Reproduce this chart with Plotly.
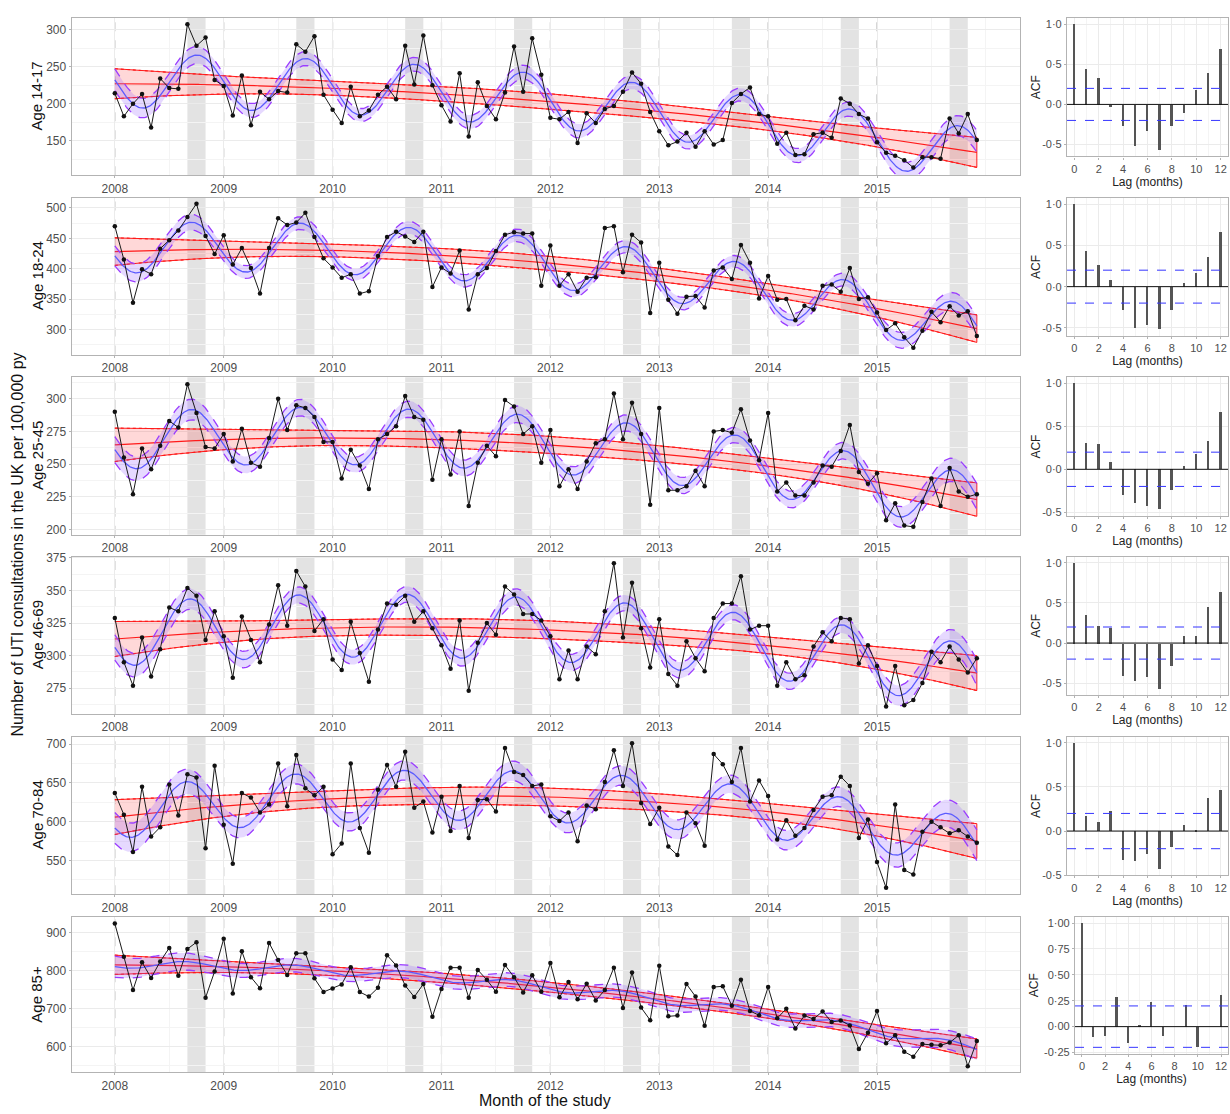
import numpy as np
import pandas as pd
import plotly.graph_objects as go

# ---------------- data ----------------
months = pd.date_range("2008-01-01", periods=96, freq="MS")
age_groups = ["Age 14-17", "Age 18-24", "Age 25-45", "Age 46-69", "Age 70-84", "Age 85+"]

rate_14_17 = [214, 183, 200, 213, 168, 234, 221, 220, 307, 278, 289, 232,
              224, 184, 238, 171, 216, 206, 217, 215, 280, 270, 291, 212,
              192, 174, 223, 183, 191, 212, 223, 206, 278, 226, 292, 225,
              198, 176, 241, 156, 229, 197, 179, 215, 277, 216, 288, 239,
              181, 179, 189, 147, 187, 174, 193, 197, 216, 242, 227, 189,
              163, 144, 149, 161, 142, 163, 145, 151, 201, 213, 222, 186,
              183, 146, 161, 131, 132, 159, 161, 154, 207, 200, 186, 180,
              148, 134, 130, 124, 114, 128, 128, 126, 180, 160, 186, 151]
rate_18_24 = [470, 415, 344, 399, 391, 433, 447, 463, 485, 507, 454, 424,
              455, 407, 434, 401, 359, 434, 483, 472, 476, 492, 452, 417,
              402, 385, 391, 359, 363, 421, 452, 461, 453, 444, 461, 370,
              402, 392, 430, 333, 391, 401, 429, 456, 460, 458, 458, 372,
              438, 372, 391, 362, 385, 386, 467, 470, 394, 456, 443, 327,
              410, 349, 326, 354, 355, 336, 397, 402, 383, 439, 410, 351,
              388, 349, 350, 315, 339, 333, 372, 374, 362, 401, 350, 353,
              328, 299, 310, 287, 270, 298, 329, 312, 338, 323, 330, 289]
rate_25_45 = [290, 255, 227, 262, 246, 264, 283, 278, 311, 289, 263, 262,
              273, 252, 277, 251, 248, 270, 300, 276, 295, 293, 286, 267,
              267, 239, 261, 249, 231, 269, 273, 279, 302, 286, 284, 238,
              269, 242, 275, 218, 251, 264, 256, 299, 294, 273, 279, 251,
              276, 233, 246, 231, 252, 266, 269, 304, 269, 297, 273, 219,
              293, 230, 230, 233, 245, 233, 275, 276, 274, 292, 268, 253,
              289, 229, 236, 226, 226, 236, 249, 248, 260, 280, 244, 235,
              243, 207, 220, 203, 202, 221, 239, 218, 247, 229, 225, 227]
rate_46_69 = [329, 295, 277, 314, 284, 305, 337, 334, 352, 346, 312, 334,
              315, 283, 330, 312, 295, 324, 354, 323, 365, 353, 319, 328,
              297, 289, 326, 302, 280, 320, 340, 339, 346, 326, 334, 321,
              308, 290, 327, 273, 310, 325, 316, 353, 347, 332, 332, 327,
              315, 282, 304, 282, 307, 301, 334, 371, 314, 356, 321, 291,
              328, 286, 277, 311, 298, 288, 329, 340, 340, 361, 320, 323,
              323, 277, 295, 282, 285, 307, 318, 311, 329, 328, 294, 308,
              292, 261, 292, 262, 266, 279, 303, 295, 307, 297, 287, 298]
rate_70_84 = [637, 609, 561, 645, 581, 593, 648, 608, 661, 657, 566, 672,
              596, 546, 637, 631, 612, 622, 675, 620, 686, 643, 634, 645,
              558, 572, 675, 592, 560, 641, 673, 645, 690, 618, 626, 586,
              632, 588, 646, 579, 628, 629, 613, 695, 664, 660, 646, 648,
              607, 601, 612, 575, 621, 616, 651, 692, 646, 701, 624, 597,
              618, 568, 557, 612, 598, 569, 687, 674, 651, 695, 626, 653,
              633, 577, 602, 582, 592, 615, 632, 634, 658, 646, 579, 603,
              548, 515, 622, 538, 532, 587, 600, 593, 585, 589, 581, 573]
rate_85_plus = [924, 837, 749, 822, 781, 824, 860, 787, 857, 875, 729, 798,
                884, 740, 851, 783, 754, 873, 828, 789, 846, 846, 780, 744,
                753, 764, 809, 744, 732, 755, 841, 814, 761, 731, 765, 679,
                752, 808, 808, 729, 802, 776, 745, 815, 783, 743, 788, 745,
                820, 730, 770, 725, 766, 722, 749, 808, 702, 795, 703, 670,
                813, 680, 682, 765, 732, 655, 757, 759, 708, 776, 694, 683,
                757, 675, 700, 648, 682, 673, 693, 665, 669, 656, 594, 637,
                694, 609, 630, 587, 574, 607, 605, 604, 611, 630, 549, 615]
rates = [rate_14_17, rate_18_24, rate_25_45, rate_46_69, rate_70_84, rate_85_plus]

acf_lags = list(range(13))
acf_14_17 = [1.0, 0.44, 0.33, -0.03, -0.27, -0.52, -0.33, -0.57, -0.27, -0.10, 0.18, 0.39, 0.69]
acf_18_24 = [1.0, 0.43, 0.26, 0.08, -0.28, -0.50, -0.47, -0.52, -0.28, 0.04, 0.17, 0.36, 0.66]
acf_25_45 = [1.0, 0.30, 0.29, 0.08, -0.30, -0.40, -0.43, -0.47, -0.25, 0.04, 0.17, 0.33, 0.66]
acf_46_69 = [1.0, 0.36, 0.22, 0.19, -0.41, -0.47, -0.42, -0.57, -0.28, 0.10, 0.10, 0.45, 0.64]
acf_70_84 = [1.0, 0.17, 0.11, 0.23, -0.32, -0.34, -0.26, -0.43, -0.18, 0.07, 0.01, 0.38, 0.47]
acf_85_plus = [1.0, -0.10, -0.09, 0.29, -0.16, 0.02, 0.24, -0.09, 0.0, 0.21, -0.20, 0.0, 0.31]
acfs = [acf_14_17, acf_18_24, acf_25_45, acf_46_69, acf_70_84, acf_85_plus]
acf_bound = 0.2

year_ticks = [2008, 2009, 2010, 2011, 2012, 2013, 2014, 2015]
season_start_month = 9   # shaded Sep-Oct
season_end_month = 11

# y-axis settings per main panel (range, tick step)
main_yranges = [[103.6, 315.6], [258.7, 516.3], [196, 316.4], [255.3, 376.1], [506.8, 709.4], [532.7, 941.5]]
main_ydticks = [50, 50, 25, 25, 50, 100]
acf_xrange = [-0.6, 12.6]
acf_yranges = [[-0.65, 1.08], [-0.596, 1.076], [-0.544, 1.074], [-0.649, 1.079], [-0.502, 1.07], [-0.26, 1.06]]
acf_tickvals = [[-0.5, 0.0, 0.5, 1.0]] * 5 + [[-0.25, 0.0, 0.25, 0.5, 0.75, 1.0]]
acf_ticktext = [["-0·5", "0·0", "0·5", "1·0"]] * 5 + [["-0·25", "0·00", "0·25", "0·50", "0·75", "1·00"]]

# ---------------- geometry (pixels) ----------------
W, H = 1230, 1114
main_x = (71.7, 1020)
main_y = [(13, 172), (195, 353), (376, 535), (557, 716), (739, 898), (921, 1078)]
acf_xs = [(1067, 1228)] * 5 + [(1075, 1228)]
acf_y = [(t, b - 19) for (t, b) in main_y]


def px_dom_x(a, b):
    return [a / W, b / W]


def px_dom_y(t, b):
    return [1 - b / H, 1 - t / H]


# ---------------- model fits ----------------
tm = (months.year + (months.month - 1) / 12.0).to_numpy()
t_idx = np.arange(len(months), dtype=float)
t_fine = np.linspace(0, len(months) - 1, 8 * (len(months) - 1) + 1)
x_fine = tm[0] + t_fine / 12.0


def design(tt, seasonal):
    cols = [np.ones_like(tt), tt, tt ** 2]
    if seasonal:
        cols += [np.sin(2 * np.pi * tt / 12), np.cos(2 * np.pi * tt / 12)]
    return np.column_stack(cols)


def fit(y, seasonal):
    y = np.asarray(y, dtype=float)
    X = design(t_idx, seasonal)
    beta, *_ = np.linalg.lstsq(X, y, rcond=None)
    resid = y - X @ beta
    s2 = resid @ resid / (len(y) - X.shape[1])
    cov = s2 * np.linalg.inv(X.T @ X)
    Xf = design(t_fine, seasonal)
    f = Xf @ beta
    se = np.sqrt(np.einsum("ij,jk,ik->i", Xf, cov, Xf))
    return f, f - 1.96 * se, f + 1.96 * se


RED = "#ff1a1a"
RED_FILL = "rgba(255,40,40,0.18)"
PURPLE = "#9a3cff"
PURPLE_FILL = "rgba(140,80,255,0.22)"
BLUE = "#5b5bff"

fig = go.Figure()
shapes = []
annotations = []
FONT = "Liberation Sans, Arial, sans-serif"


def axname(prefix, n):
    return prefix if n == 1 else f"{prefix}{n}"


for i, (lab, y) in enumerate(zip(age_groups, rates)):
    n1, n2 = 2 * i + 1, 2 * i + 2
    xa, ya = axname("x", n1), axname("y", n1)
    xa2, ya2 = axname("x", n2), axname("y", n2)

    tr, tr_lo, tr_hi = fit(y, False)
    se_, se_lo, se_hi = fit(y, True)

    # red trend band
    fig.add_trace(go.Scatter(x=np.concatenate([x_fine, x_fine[::-1]]),
                             y=np.concatenate([tr_hi, tr_lo[::-1]]),
                             fill="toself", fillcolor=RED_FILL, mode="lines",
                             line=dict(color=RED, width=1), xaxis=xa, yaxis=ya,
                             hoverinfo="skip", showlegend=False))
    for yy in (tr_hi, tr_lo):
        fig.add_trace(go.Scatter(x=x_fine, y=yy, mode="lines",
                                 line=dict(color=RED, width=1.2, dash="dot"),
                                 xaxis=xa, yaxis=ya, hoverinfo="skip", showlegend=False))
    fig.add_trace(go.Scatter(x=x_fine, y=tr, mode="lines", line=dict(color=RED, width=1.2),
                             xaxis=xa, yaxis=ya, hoverinfo="skip", showlegend=False))

    # purple seasonal band
    fig.add_trace(go.Scatter(x=np.concatenate([x_fine, x_fine[::-1]]),
                             y=np.concatenate([se_hi, se_lo[::-1]]),
                             fill="toself", fillcolor=PURPLE_FILL, mode="lines",
                             line=dict(color="rgba(0,0,0,0)", width=0), xaxis=xa, yaxis=ya,
                             hoverinfo="skip", showlegend=False))
    for yy in (se_hi, se_lo):
        fig.add_trace(go.Scatter(x=x_fine, y=yy, mode="lines",
                                 line=dict(color=PURPLE, width=1.3, dash="dash"),
                                 xaxis=xa, yaxis=ya, hoverinfo="skip", showlegend=False))
    fig.add_trace(go.Scatter(x=x_fine, y=se_, mode="lines", line=dict(color=BLUE, width=1.3),
                             xaxis=xa, yaxis=ya, hoverinfo="skip", showlegend=False))

    # observed data
    fig.add_trace(go.Scatter(x=tm, y=y, mode="lines+markers",
                             line=dict(color="#1a1a1a", width=1.0),
                             marker=dict(color="#111111", size=4.5),
                             xaxis=xa, yaxis=ya, showlegend=False))

    # ACF reference lines (drawn as traces across the panel range)
    fig.add_trace(go.Scatter(x=acf_xrange, y=[0, 0], mode="lines", line=dict(color="#111111", width=1),
                             xaxis=xa2, yaxis=ya2, hoverinfo="skip", showlegend=False))
    for b in (acf_bound, -acf_bound):
        fig.add_trace(go.Scatter(x=acf_xrange, y=[b, b], mode="lines",
                                 line=dict(color="#3535ff", width=1, dash="dash"),
                                 xaxis=xa2, yaxis=ya2, hoverinfo="skip", showlegend=False))
    # ACF bars
    fig.add_trace(go.Bar(x=acf_lags, y=acfs[i], width=0.16,
                         marker=dict(color="#555555", line=dict(width=0)),
                         xaxis=xa2, yaxis=ya2, showlegend=False))

    # axes
    ax = dict(domain=px_dom_x(*main_x), range=[2007.604, 2016.313], anchor=ya,
              tickvals=year_ticks, ticktext=[str(v) for v in year_ticks],
              showgrid=True, gridcolor="#ebebeb", gridwidth=1,
              minor=dict(tickvals=[v + 0.5 for v in year_ticks] + [2016.0], showgrid=True,
                         gridcolor="#f4f4f4", gridwidth=1),
              showline=True, mirror=True, linecolor="#b3b3b3", linewidth=1.2,
              ticks="outside", ticklen=2, tickcolor="#b3b3b3",
              tickfont=dict(size=12, color="#4d4d4d", family=FONT), zeroline=False)
    ay = dict(domain=px_dom_y(*main_y[i]), range=main_yranges[i], anchor=xa,
              tickmode="linear", tick0=0, dtick=main_ydticks[i],
              showgrid=True, gridcolor="#ebebeb",
              minor=dict(tickmode="linear", tick0=0, dtick=main_ydticks[i] / 2, showgrid=True,
                         gridcolor="#f4f4f4"),
              showline=True, mirror=True, linecolor="#b3b3b3", linewidth=1.2,
              ticks="outside", ticklen=2, tickcolor="#b3b3b3",
              tickfont=dict(size=12, color="#4d4d4d", family=FONT), zeroline=False)
    ax2 = dict(domain=px_dom_x(*acf_xs[i]), range=acf_xrange, anchor=ya2,
               tickvals=[0, 2, 4, 6, 8, 10, 12], showgrid=True, gridcolor="#ebebeb",
               minor=dict(tickvals=[1, 3, 5, 7, 9, 11], showgrid=True, gridcolor="#f4f4f4"),
               showline=True, mirror=True, linecolor="#b3b3b3", linewidth=1.2,
               ticks="outside", ticklen=2, tickcolor="#b3b3b3",
               tickfont=dict(size=11, color="#4d4d4d", family=FONT), zeroline=False,
               title=dict(text="Lag (months)", font=dict(size=12, color="#222", family=FONT), standoff=0))
    ay2 = dict(domain=px_dom_y(*acf_y[i]), range=acf_yranges[i], anchor=xa2,
               tickvals=acf_tickvals[i], ticktext=acf_ticktext[i],
               showgrid=True, gridcolor="#ebebeb",
               showline=True, mirror=True, linecolor="#b3b3b3", linewidth=1.2,
               ticks="outside", ticklen=2, tickcolor="#b3b3b3",
               tickfont=dict(size=11, color="#4d4d4d", family=FONT), zeroline=False)
    fig.layout[axname("xaxis", n1)] = ax
    fig.layout[axname("yaxis", n1)] = ay
    fig.layout[axname("xaxis", n2)] = ax2
    fig.layout[axname("yaxis", n2)] = ay2

    # shaded seasons and year lines
    for yr in year_ticks:
        shapes.append(dict(type="rect", xref=xa, yref=f"{ya} domain",
                           x0=yr + (season_start_month - 1) / 12, x1=yr + (season_end_month - 1) / 12,
                           y0=0, y1=1, fillcolor="#e3e3e3", line=dict(width=0), layer="below"))
        shapes.append(dict(type="line", xref=xa, yref=f"{ya} domain", x0=yr, x1=yr, y0=0, y1=1,
                           line=dict(color="#b8b8b8", width=1.2, dash="dash"), layer="below"))

    # row label
    cy = (main_y[i][0] + main_y[i][1]) / 2
    annotations.append(dict(text=lab, x=37 / W, y=1 - cy / H, xref="paper", yref="paper",
                            textangle=-90, showarrow=False, xanchor="center", yanchor="middle",
                            font=dict(size=15, color="#111", family=FONT)))
    # ACF y title
    acy = (acf_y[i][0] + acf_y[i][1]) / 2
    annotations.append(dict(text="ACF", x=(1036 if i < 5 else 1034) / W, y=1 - acy / H, xref="paper",
                            yref="paper", textangle=-90, showarrow=False, xanchor="center",
                            yanchor="middle", font=dict(size=12, color="#222", family=FONT)))

annotations.append(dict(text="Number of UTI consultations in the UK per 100,000 py", x=18 / W,
                        y=1 - 545 / H, xref="paper", yref="paper", textangle=-90, showarrow=False,
                        xanchor="center", yanchor="middle", font=dict(size=16, color="#111", family=FONT)))
annotations.append(dict(text="Month of the study", x=545 / W, y=1 - 1106 / H, xref="paper", yref="paper",
                        showarrow=False, xanchor="center", yanchor="middle",
                        font=dict(size=16, color="#111", family=FONT)))

fig.update_layout(width=W, height=H, margin=dict(l=0, r=0, t=0, b=0),
                  paper_bgcolor="white", plot_bgcolor="white",
                  shapes=shapes, annotations=annotations, bargap=0, showlegend=False,
                  font=dict(family=FONT))
fig.write_html("out.html", config={"displayModeBar": False},
               post_script="document.body.style.margin='0px';document.body.style.overflow='hidden';")
